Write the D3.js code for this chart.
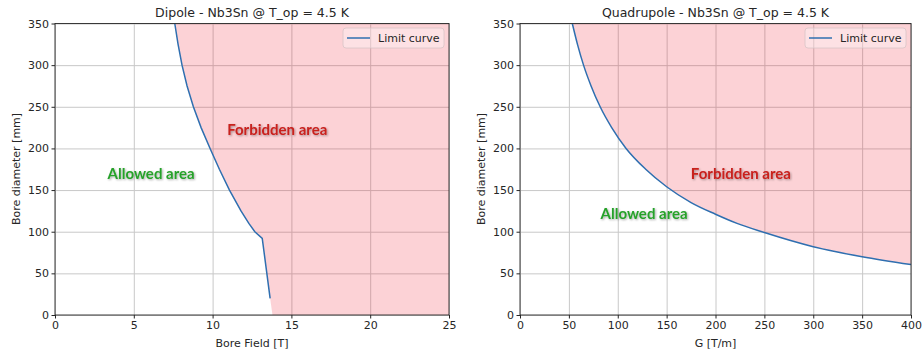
<!DOCTYPE html>
<html>
<head>
<meta charset="utf-8">
<script src="https://cdn.jsdelivr.net/npm/d3@7"></script>
<style>
  body { margin: 0; background: #fff; }
  svg { display: block; font-family: "DejaVu Sans", sans-serif; }
</style>
</head>
<body>
<div class="d3-container"></div>
<script>
// limit curves
const dipoleD = [350, 325, 300, 275, 250, 225, 200, 175, 150, 125, 110, 100, 92, 20];
const dipoleB = [7.6, 7.81, 8.06, 8.38, 8.78, 9.27, 9.84, 10.43, 11.07, 11.8, 12.3, 12.68, 13.15, 13.65];
// the shaded area runs on down to the x axis
const dipoleFillB = [13.8];
const dipoleFillD = [0];

const quadG = [53.5, 58.8, 65, 72.7, 82, 93.8, 108.5, 128.6, 150, 175, 200, 222, 250, 300, 350, 400];
const quadD = [350, 325, 300, 275, 250, 225, 200, 175, 154, 135, 121, 110, 99, 82, 70, 60.5];

const dipoleTicks = [0, 5, 10, 15, 20, 25];
const quadTicks = [0, 50, 100, 150, 200, 250, 300, 350, 400];
const boreTicks = [0, 50, 100, 150, 200, 250, 300, 350];

const titles = ["Dipole - Nb3Sn @ T_op = 4.5 K", "Quadrupole - Nb3Sn @ T_op = 4.5 K"];
const xLabels = ["Bore Field [T]", "G [T/m]"];
const yLabel = "Bore diameter [mm]";
const legendLabel = "Limit curve";
const areaLabels = ["Forbidden area", "Allowed area"];
// label anchor points, data coordinates [forbidden, allowed]
const dipoleLabelPos = [[14.1, 223], [6.1, 170]];
const quadLabelPos = [[226, 170], [127, 123]];

const width = 922;
const height = 354;

const svg = d3.select(".d3-container")
  .append("svg")
  .attr("width", width)
  .attr("height", height);

const defs = svg.append("defs");
const shadow = defs.append("filter").attr("id", "shadow")
  .attr("x", "-10%").attr("y", "-30%").attr("width", "130%").attr("height", "180%");
shadow.append("feDropShadow")
  .attr("dx", 1).attr("dy", 1).attr("stdDeviation", 0.9)
  .attr("flood-color", "#000").attr("flood-opacity", 0.35);

function panel(opt) {
  const x = d3.scaleLinear().domain(opt.xDomain).range([opt.left, opt.right]);
  const y = d3.scaleLinear().domain([0, 350]).range([315, 23.5]);
  const g = svg.append("g");
  g.append("defs").append("clipPath").attr("id", opt.id)
    .append("rect").attr("x", opt.left).attr("y", 23.5)
    .attr("width", opt.right - opt.left).attr("height", 315 - 23.5);

  // grid
  g.append("g")
    .attr("transform", `translate(0,315)`)
    .call(d3.axisBottom(x).tickValues(opt.xTicks).tickSize(-(315 - 23.5)).tickFormat(""))
    .call(a => a.select(".domain").remove())
    .call(a => a.selectAll("line").attr("stroke", "#c8c8c8").attr("stroke-width", 1));
  g.append("g")
    .attr("transform", `translate(${opt.left},0)`)
    .call(d3.axisLeft(y).tickValues(boreTicks).tickSize(-(opt.right - opt.left)).tickFormat(""))
    .call(a => a.select(".domain").remove())
    .call(a => a.selectAll("line").attr("stroke", "#c8c8c8").attr("stroke-width", 1));

  const pts = opt.xs.map((v, i) => [v, opt.ys[i]]);
  const fillPts = pts.concat(opt.extra)
    .concat([[opt.xDomain[1], opt.extra.length ? 0 : opt.ys[opt.ys.length - 1]],
             [opt.xDomain[1], 350], [opt.xs[0], 350]]);

  g.append("path")
    .attr("clip-path", `url(#${opt.id})`)
    .attr("d", d3.line().x(d => x(d[0])).y(d => y(d[1])).curve(opt.curve)(pts)
      + d3.line().x(d => x(d[0])).y(d => y(d[1]))(fillPts.slice(pts.length - 1)).replace(/^M/, "L") + "Z")
    .attr("fill", "rgb(240,30,50)")
    .attr("fill-opacity", 0.2);

  g.append("path")
    .attr("clip-path", `url(#${opt.id})`)
    .attr("d", d3.line().x(d => x(d[0])).y(d => y(d[1])).curve(opt.curve)(pts))
    .attr("fill", "none")
    .attr("stroke", "#2f6fb0")
    .attr("stroke-width", 1.5);

  // axes
  const xa = g.append("g")
    .attr("transform", `translate(0,315)`)
    .call(d3.axisBottom(x).tickValues(opt.xTicks).tickSize(3.5).tickPadding(2.5));
  const ya = g.append("g")
    .attr("transform", `translate(${opt.left},0)`)
    .call(d3.axisLeft(y).tickValues(boreTicks).tickSize(3.5).tickPadding(2.5));
  [xa, ya].forEach(a => {
    a.selectAll("text").attr("font-size", 11).attr("fill", "#262626")
      .attr("font-family", "DejaVu Sans, sans-serif");
    a.selectAll("line").attr("stroke", "#262626");
    a.select(".domain").remove();
  });
  g.append("rect")
    .attr("x", opt.left).attr("y", 23.5)
    .attr("width", opt.right - opt.left).attr("height", 315 - 23.5)
    .attr("fill", "none").attr("stroke", "#262626").attr("stroke-width", 0.9);

  const mid = (opt.left + opt.right) / 2;
  g.append("text").attr("x", mid).attr("y", 17)
    .attr("text-anchor", "middle").attr("font-size", 12.5).attr("fill", "#262626")
    .text(opt.title);
  g.append("text").attr("x", mid).attr("y", 347)
    .attr("text-anchor", "middle").attr("font-size", 11).attr("fill", "#262626")
    .text(opt.xLabel);
  g.append("text")
    .attr("transform", `translate(${opt.left - 35},169) rotate(-90)`)
    .attr("text-anchor", "middle").attr("font-size", 11).attr("fill", "#262626")
    .text(yLabel);

  // area labels
  const colors = ["#c8201e", "#27a12a"];
  opt.labelPos.forEach((p, i) => {
    g.append("text")
      .attr("x", x(p[0])).attr("y", y(p[1]))
      .attr("text-anchor", "middle").attr("dominant-baseline", "central")
      .attr("font-family", "Lato, sans-serif").attr("font-weight", 700)
      .attr("font-size", 15).attr("fill", colors[i])
      .attr("filter", "url(#shadow)")
      .text(areaLabels[i]);
  });

  // legend
  const lx = opt.right - 106, ly = 28;
  g.append("rect").attr("x", lx).attr("y", ly).attr("width", 101).attr("height", 20)
    .attr("rx", 3).attr("fill", "#fff").attr("fill-opacity", 0.35)
    .attr("stroke", "#d8c4c6").attr("stroke-width", 0.8);
  g.append("line").attr("x1", lx + 4).attr("x2", lx + 27).attr("y1", ly + 10).attr("y2", ly + 10)
    .attr("stroke", "#2f6fb0").attr("stroke-width", 1.5);
  g.append("text").attr("x", lx + 35).attr("y", ly + 10)
    .attr("dominant-baseline", "central").attr("font-size", 11).attr("fill", "#262626")
    .text(legendLabel);
}

panel({
  id: "clipA", left: 55, right: 449, xDomain: [0, 25], xTicks: dipoleTicks,
  xs: dipoleB, ys: dipoleD, extra: dipoleFillB.map((b, i) => [b, dipoleFillD[i]]),
  curve: d3.curveLinear, title: titles[0], xLabel: xLabels[0], labelPos: dipoleLabelPos
});
panel({
  id: "clipB", left: 520, right: 911, xDomain: [0, 400], xTicks: quadTicks,
  xs: quadG, ys: quadD, extra: [],
  curve: d3.curveMonotoneX, title: titles[1], xLabel: xLabels[1], labelPos: quadLabelPos
});
</script>
</body>
</html>
